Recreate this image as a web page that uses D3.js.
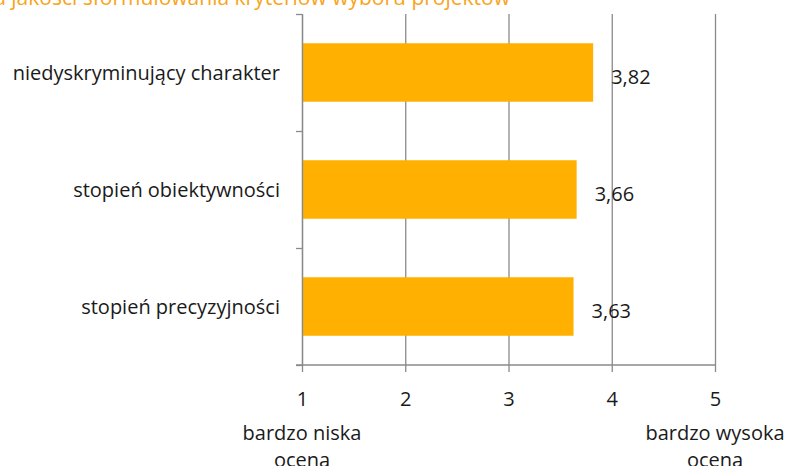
<!DOCTYPE html>
<html>
<head>
<meta charset="UTF-8">
<title>Ocena kryteriów</title>
<script src="https://d3js.org/d3.v7.min.js"></script>
<style>
	body { margin: 0; background: #fff; }
	svg { display: block; font-family: "Open Sans", sans-serif; }
	.grid line { stroke: #8a8a8a; stroke-width: 1.3; }
	.grid path { display: none; }
	.axis path, .axis line { stroke: #8a8a8a; stroke-width: 1.3; }
	.axis text { fill: #1a1a1a; font-size: 20px; font-family: "Open Sans", sans-serif; }
</style>
</head>
<body>
<div id="chart"></div>
<script>
// data
var categories = ["niedyskryminujący charakter", "stopień obiektywności", "stopień precyzyjności"];
var values = [3.82, 3.66, 3.63];
var tickValues = [1, 2, 3, 4, 5];
var endLabels = [
	{ value: 1, lines: ["bardzo niska", "ocena"] },
	{ value: 5, lines: ["bardzo wysoka", "ocena"] }
];
var title = "Ocena jakości sformułowania kryteriów wyboru projektów";

var width = 803, height = 466;
var plotLeft = 302, plotRight = 715, plotTop = 14, plotBottom = 365;
var barColor = "#ffb000";
var fontSize = "20px";

var pl = d3.formatLocale({ decimal: ",", thousands: " ", grouping: [3], currency: ["", " zł"] });
var fmt = pl.format(".2f");

var svg = d3.select("#chart").append("svg")
	.attr("width", width)
	.attr("height", height);

var x = d3.scaleLinear().domain([1, 5]).range([plotLeft, plotRight]);
var y = d3.scaleBand().domain(categories).range([plotTop, plotBottom])
	.paddingInner(0.5).paddingOuter(0.25);
// index scale for the ticks between categories
var yIdx = d3.scaleLinear().domain([0, categories.length]).range([plotTop, plotBottom]);

// vertical gridlines
svg.append("g")
	.attr("class", "grid")
	.attr("transform", "translate(0," + plotBottom + ")")
	.call(d3.axisBottom(x).tickValues(tickValues).tickSize(-(plotBottom - plotTop)).tickFormat(""));

// bars
svg.selectAll("rect.bar")
	.data(categories)
	.enter().append("rect")
		.attr("class", "bar")
		.attr("x", x(1))
		.attr("y", function(d){ return y(d); })
		.attr("width", function(d, i){ return x(values[i]) - x(1); })
		.attr("height", y.bandwidth())
		.attr("fill", barColor);

// left axis
svg.append("g")
	.attr("class", "axis")
	.attr("transform", "translate(" + plotLeft + ",0)")
	.call(d3.axisLeft(yIdx).tickValues(d3.range(categories.length + 1)).tickSize(6).tickSizeOuter(0).tickFormat(""));

// bottom axis
svg.append("g")
	.attr("class", "axis")
	.attr("transform", "translate(0," + plotBottom + ")")
	.call(d3.axisBottom(x).tickValues(tickValues).tickSize(7).tickSizeOuter(0).tickPadding(20).tickFormat(d3.format("d")))
	.call(function(g){ g.select(".domain").attr("d", "M" + (plotLeft - 6) + ",0H" + plotRight); });

// category labels
svg.selectAll("text.cat")
	.data(categories)
	.enter().append("text")
		.attr("class", "cat")
		.attr("x", plotLeft - 22)
		.attr("y", function(d){ return y(d) + y.bandwidth() / 2; })
		.attr("dy", "0.35em")
		.attr("text-anchor", "end")
		.attr("font-size", fontSize)
		.attr("fill", "#1a1a1a")
		.text(function(d){ return d; });

// value labels
svg.selectAll("text.val")
	.data(categories)
	.enter().append("text")
		.attr("class", "val")
		.attr("x", function(d, i){ return x(values[i]) + 18; })
		.attr("y", function(d){ return y(d) + y.bandwidth() / 2 + 4; })
		.attr("dy", "0.35em")
		.attr("font-size", fontSize)
		.attr("fill", "#1a1a1a")
		.text(function(d, i){ return fmt(values[i]); });

// "bardzo niska / bardzo wysoka" under the end ticks
endLabels.forEach(function(e){
	var t = svg.append("text")
		.attr("text-anchor", "middle")
		.attr("font-size", fontSize)
		.attr("fill", "#1a1a1a");
	t.selectAll("tspan")
		.data(e.lines)
		.enter().append("tspan")
			.attr("x", x(e.value))
			.attr("y", function(d, i){ return 440 + i * 27; })
			.text(function(d){ return d; });
	// keep it inside the picture, like the original
	var bb = t.node().getBBox();
	if (bb.x + bb.width > width - 6) {
		t.selectAll("tspan").attr("x", width - 6 - bb.width / 2);
	}
});

// title, cut at the top edge as in the original
svg.append("text")
	.attr("x", 510)
	.attr("y", 5)
	.attr("text-anchor", "end")
	.attr("font-size", "21px")
	.attr("fill", "#f8a51b")
	.text(title);
</script>
</body>
</html>
